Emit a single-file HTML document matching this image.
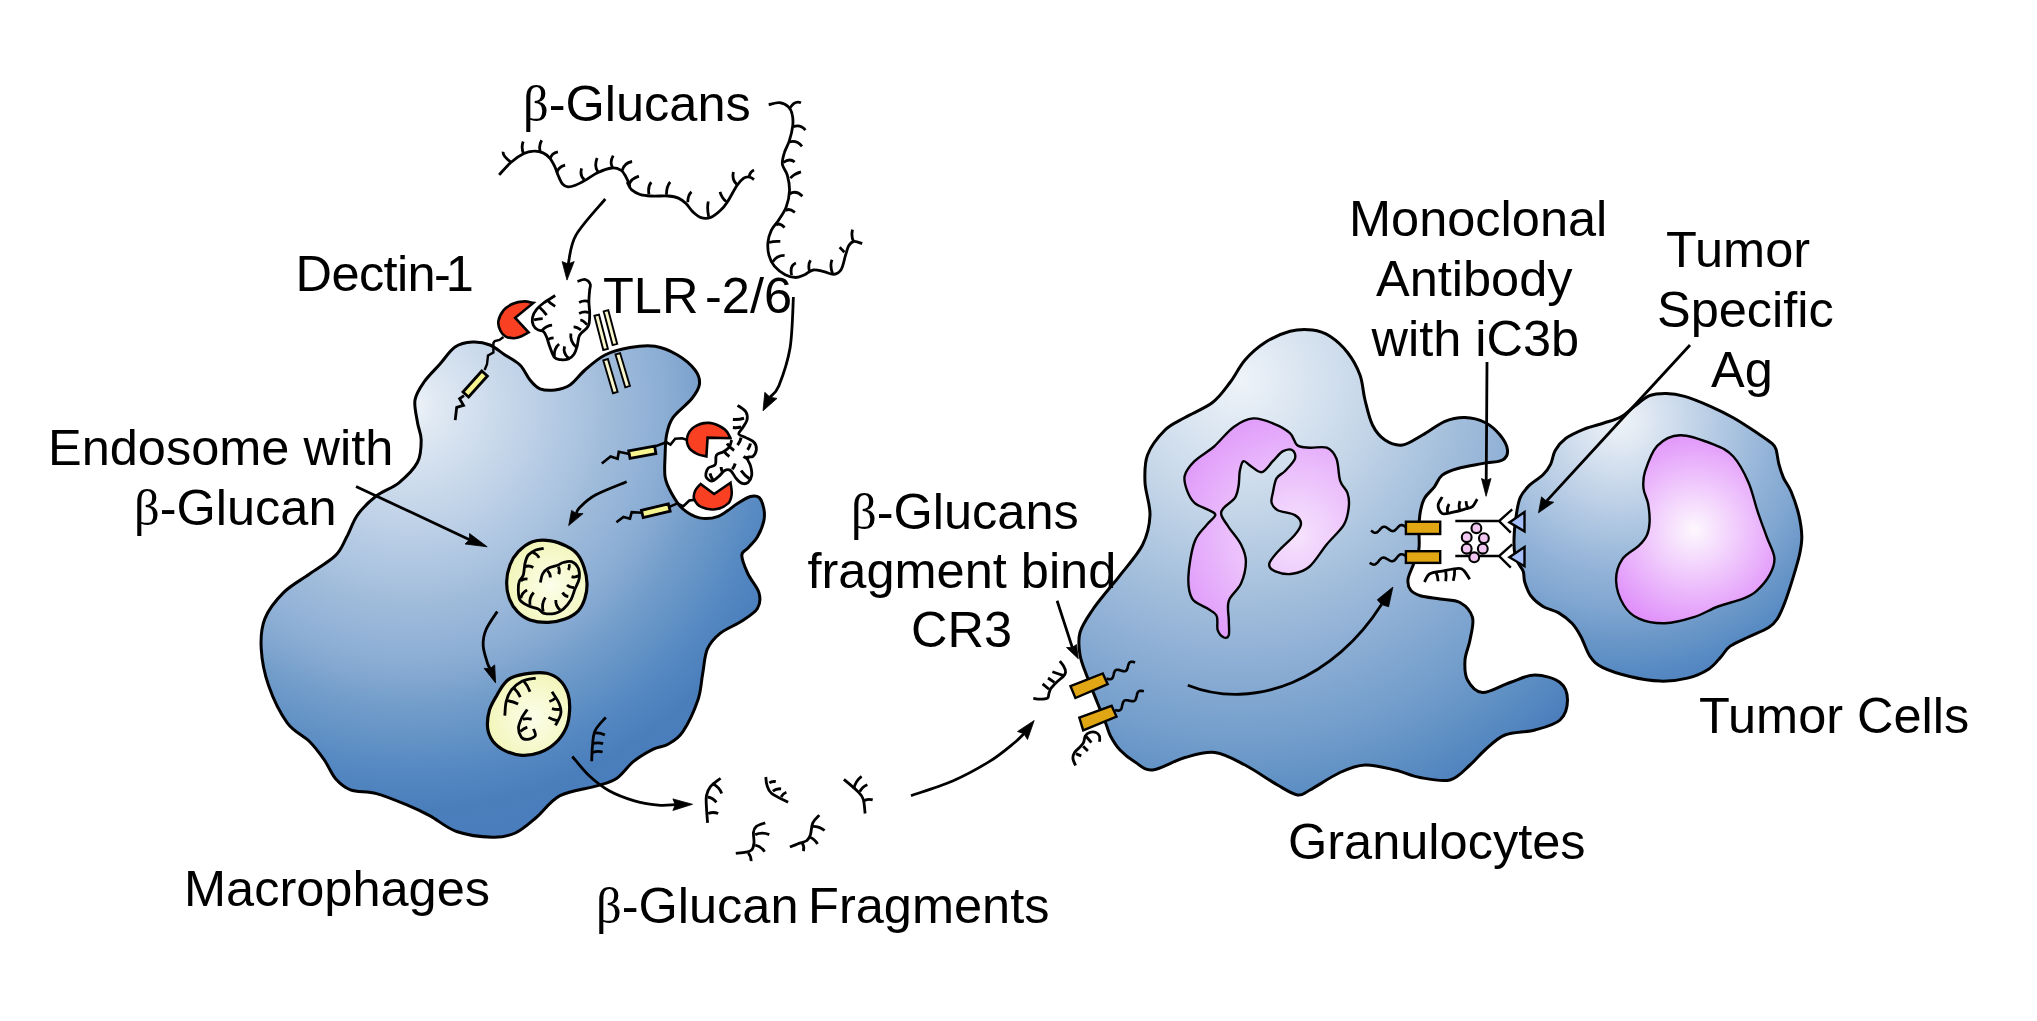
<!DOCTYPE html>
<html><head><meta charset="utf-8"><style>
html,body{margin:0;padding:0;background:#fff;width:2037px;height:1021px;overflow:hidden}
svg{display:block}
text{font-family:"Liberation Sans",sans-serif;font-size:50.5px;fill:#000}
.b{font-family:"Liberation Serif",serif}
</style></head><body>
<svg width="2037" height="1021" viewBox="0 0 2037 1021">
<defs><radialGradient id="gm" gradientUnits="userSpaceOnUse" cx="410" cy="405" r="450">
<stop offset="0" stop-color="#eef3f9"/><stop offset="0.06" stop-color="#e0e9f3"/><stop offset="0.37" stop-color="#adc5e1"/><stop offset="0.43" stop-color="#a2bddb"/><stop offset="0.565" stop-color="#8caed5"/><stop offset="0.62" stop-color="#80a5cf"/><stop offset="0.67" stop-color="#729dca"/><stop offset="0.81" stop-color="#5689c2"/><stop offset="0.9" stop-color="#4a7ebb"/><stop offset="1" stop-color="#4a7cbc"/></radialGradient>
<radialGradient id="gg" gradientUnits="userSpaceOnUse" cx="1240" cy="380" r="470">
<stop offset="0" stop-color="#eef3f9"/><stop offset="0.25" stop-color="#c9d9ea"/><stop offset="0.46" stop-color="#a4bfdc"/><stop offset="0.6" stop-color="#8eafd5"/><stop offset="0.77" stop-color="#729dcb"/><stop offset="0.9" stop-color="#5a8cc2"/><stop offset="1" stop-color="#4a7cbc"/></radialGradient>
<radialGradient id="gt" gradientUnits="userSpaceOnUse" cx="1620" cy="420" r="290">
<stop offset="0" stop-color="#eef3f9"/><stop offset="0.07" stop-color="#e4ebf4"/><stop offset="0.52" stop-color="#93b3d8"/><stop offset="0.65" stop-color="#80a6d1"/><stop offset="0.76" stop-color="#6a97c8"/><stop offset="0.87" stop-color="#578ac3"/><stop offset="1" stop-color="#4a7cbc"/></radialGradient>
<radialGradient id="gn" gradientUnits="userSpaceOnUse" cx="1295" cy="535" r="125">
<stop offset="0" stop-color="#f6e4fd"/><stop offset="1" stop-color="#e09cfa"/></radialGradient>
<radialGradient id="tn" gradientUnits="userSpaceOnUse" cx="1694" cy="530" r="100">
<stop offset="0" stop-color="#fdf8fe"/><stop offset="1" stop-color="#e092fa"/></radialGradient>

<radialGradient id="en" cx="0.55" cy="0.55" r="0.6">
<stop offset="0" stop-color="#fcfeea"/><stop offset="1" stop-color="#f1f5b6"/></radialGradient>
</defs>
<path d="M421.2,440.0 C421.2,433.4 418.5,429.2 417.5,422.5 C416.5,415.8 413.9,406.8 415.0,400.0 C416.1,393.2 419.8,388.0 424.0,382.0 C428.2,376.0 434.8,369.8 440.0,364.0 C445.2,358.2 449.6,350.7 455.0,347.0 C460.4,343.3 466.7,342.3 472.5,342.0 C478.3,341.7 484.6,342.8 490.0,345.0 C495.4,347.2 500.0,351.7 505.0,355.0 C510.0,358.3 515.8,360.8 520.0,365.0 C524.2,369.2 526.7,376.0 530.0,380.0 C533.3,384.0 535.8,387.1 540.0,388.8 C544.2,390.5 550.0,390.6 555.0,390.0 C560.0,389.4 565.0,388.3 570.0,385.0 C575.0,381.7 579.2,375.0 585.0,370.0 C590.8,365.0 597.5,358.8 605.0,355.0 C612.5,351.2 621.7,348.9 630.0,347.5 C638.3,346.1 647.1,345.1 655.0,346.3 C662.9,347.6 670.8,351.1 677.5,355.0 C684.2,358.9 691.3,365.2 695.0,370.0 C698.7,374.8 700.0,379.2 699.5,384.0 C699.0,388.8 696.1,393.2 691.7,398.8 C687.3,404.4 677.1,411.6 672.9,417.6 C668.7,423.6 667.9,428.5 666.6,434.8 C665.3,441.1 665.4,448.1 665.1,455.2 C664.9,462.2 664.1,470.8 665.1,477.1 C666.1,483.4 668.4,487.6 671.3,492.8 C674.2,498.0 677.6,504.3 682.3,508.5 C687.0,512.7 693.5,516.6 699.5,517.9 C705.5,519.2 712.0,518.6 718.3,516.3 C724.6,513.9 731.9,507.1 737.1,503.8 C742.3,500.5 746.0,497.8 749.7,496.7 C753.4,495.6 756.8,495.5 759.1,497.5 C761.5,499.5 763.0,504.6 763.8,508.5 C764.6,512.4 764.8,516.3 763.8,521.0 C762.8,525.7 760.1,532.2 757.5,536.7 C754.9,541.2 750.6,544.9 748.0,548.0 C745.4,551.1 741.8,550.9 741.8,555.2 C741.8,559.5 745.1,567.7 748.0,574.0 C750.9,580.3 757.4,587.0 759.0,592.8 C760.6,598.5 760.3,603.8 757.4,608.5 C754.5,613.2 748.1,616.8 741.8,621.0 C735.5,625.2 725.5,628.9 719.8,633.6 C714.0,638.3 710.2,642.4 707.3,649.2 C704.4,656.0 704.2,665.8 702.6,674.3 C701.0,682.8 701.2,690.4 697.9,700.0 C694.6,709.6 687.7,724.5 682.7,731.9 C677.7,739.3 672.9,741.3 668.0,744.2 C663.1,747.1 659.0,746.2 653.3,749.1 C647.6,752.0 639.7,756.5 633.6,761.4 C627.5,766.3 622.6,774.4 616.5,778.5 C610.4,782.6 606.2,783.0 596.8,785.9 C587.4,788.8 570.2,790.4 560.0,795.7 C549.8,801.1 543.2,811.8 535.7,818.0 C528.2,824.2 522.5,829.8 515.3,833.0 C508.1,836.2 502.1,837.5 492.3,837.2 C482.5,837.0 467.0,835.0 456.6,831.5 C446.2,828.0 438.5,820.4 430.1,815.9 C421.7,811.4 415.2,808.4 406.3,804.7 C397.4,801.0 385.8,796.1 376.5,793.6 C367.2,791.1 357.3,792.3 350.5,789.8 C343.7,787.3 340.0,783.7 335.6,778.7 C331.2,773.8 328.8,766.3 324.4,760.1 C320.0,753.9 315.7,747.7 309.5,741.5 C303.3,735.3 294.0,732.1 287.2,722.8 C280.4,713.5 272.9,698.0 268.6,685.6 C264.3,673.2 261.8,659.6 261.2,648.4 C260.6,637.2 261.2,627.9 264.9,618.6 C268.6,609.3 276.1,600.0 283.5,592.6 C290.9,585.2 300.8,580.2 309.5,574.0 C318.2,567.8 329.4,561.6 335.6,555.4 C341.8,549.2 343.1,543.6 346.8,536.8 C350.5,530.0 352.9,521.2 357.9,514.4 C362.8,507.6 369.7,501.1 376.5,495.8 C383.3,490.5 392.1,488.4 398.9,482.8 C405.7,477.2 413.8,469.4 417.5,462.3 C421.2,455.2 421.2,446.6 421.2,440.0Z" fill="url(#gm)" stroke="#000" stroke-width="3"/>
<path d="M1120.0,575.3 C1125.4,568.2 1137.5,555.0 1142.5,545.0 C1147.5,535.0 1149.6,525.4 1150.0,515.0 C1150.4,504.6 1145.4,492.5 1145.0,482.5 C1144.6,472.5 1144.2,463.8 1147.5,455.0 C1150.8,446.2 1158.8,436.2 1165.0,430.0 C1171.2,423.8 1177.1,422.1 1185.0,417.5 C1192.9,412.9 1205.0,408.3 1212.5,402.5 C1220.0,396.7 1224.6,389.6 1230.0,382.5 C1235.4,375.4 1239.2,366.7 1245.0,360.0 C1250.8,353.3 1257.5,347.3 1265.0,342.5 C1272.5,337.7 1282.1,333.4 1290.0,331.3 C1297.9,329.2 1305.8,329.2 1312.5,330.0 C1319.2,330.8 1324.2,332.6 1330.0,336.3 C1335.8,340.1 1342.5,346.1 1347.5,352.5 C1352.5,358.9 1357.1,367.1 1360.0,375.0 C1362.9,382.9 1362.9,391.7 1365.0,400.0 C1367.1,408.3 1369.2,418.3 1372.5,425.0 C1375.8,431.7 1380.0,436.7 1385.0,440.0 C1390.0,443.3 1396.2,445.8 1402.5,445.0 C1408.8,444.2 1415.4,438.9 1422.5,435.0 C1429.6,431.1 1437.9,424.2 1445.0,421.3 C1452.1,418.4 1458.3,417.3 1465.0,417.5 C1471.7,417.7 1479.2,419.6 1485.0,422.5 C1490.8,425.4 1496.2,430.4 1500.0,435.0 C1503.8,439.6 1507.1,445.8 1507.5,450.0 C1507.9,454.2 1506.5,457.8 1502.5,460.0 C1498.5,462.2 1490.7,462.0 1483.4,463.4 C1476.1,464.8 1465.6,466.2 1458.7,468.2 C1451.8,470.1 1446.3,471.9 1442.2,475.1 C1438.1,478.3 1437.0,483.5 1434.0,487.4 C1431.0,491.3 1426.7,494.3 1424.4,498.4 C1422.1,502.5 1421.2,507.1 1420.3,512.1 C1419.4,517.1 1419.1,522.3 1418.9,528.5 C1418.7,534.7 1419.8,543.1 1418.9,549.1 C1418.0,555.1 1415.3,559.2 1413.5,564.2 C1411.7,569.2 1408.5,575.0 1408.0,579.3 C1407.5,583.6 1408.7,587.5 1410.7,590.2 C1412.8,592.9 1415.4,594.2 1420.3,595.7 C1425.2,597.2 1433.4,597.9 1440.0,599.0 C1446.6,600.1 1454.6,599.4 1460.0,602.5 C1465.4,605.6 1470.8,611.2 1472.5,617.5 C1474.2,623.8 1471.2,632.9 1470.0,640.0 C1468.8,647.1 1465.4,653.3 1465.0,660.0 C1464.6,666.7 1464.6,674.6 1467.5,680.0 C1470.4,685.4 1475.4,692.1 1482.5,692.5 C1489.6,692.9 1501.2,685.4 1510.0,682.5 C1518.8,679.6 1526.7,675.0 1535.0,675.0 C1543.3,675.0 1554.6,678.3 1560.0,682.5 C1565.4,686.7 1567.5,693.8 1567.5,700.0 C1567.5,706.2 1565.4,715.0 1560.0,720.0 C1554.6,725.0 1544.2,727.5 1535.0,730.0 C1525.8,732.5 1513.3,731.7 1505.0,735.0 C1496.7,738.3 1490.8,745.0 1485.0,750.0 C1479.2,755.0 1475.8,760.0 1470.0,765.0 C1464.2,770.0 1458.3,777.9 1450.0,780.0 C1441.7,782.1 1429.2,779.2 1420.0,777.5 C1410.8,775.8 1404.2,772.1 1395.0,770.0 C1385.8,767.9 1374.2,764.6 1365.0,765.0 C1355.8,765.4 1349.2,768.3 1340.0,772.5 C1330.8,776.7 1317.1,786.2 1310.0,790.0 C1302.9,793.8 1302.9,795.8 1297.5,795.0 C1292.1,794.2 1286.2,790.0 1277.5,785.0 C1268.8,780.0 1255.4,770.4 1245.0,765.0 C1234.6,759.6 1225.0,753.8 1215.0,752.5 C1205.0,751.2 1195.4,754.6 1185.0,757.5 C1174.6,760.4 1160.8,769.2 1152.5,770.0 C1144.2,770.8 1140.4,765.3 1135.0,762.0 C1129.6,758.7 1124.1,754.3 1120.0,750.0 C1115.9,745.7 1112.8,740.3 1110.5,736.0 C1108.2,731.7 1108.2,729.5 1106.0,724.0 C1103.8,718.5 1100.6,710.8 1097.5,703.0 C1094.4,695.2 1090.4,685.5 1087.5,677.5 C1084.6,669.5 1081.2,662.5 1080.0,655.0 C1078.8,647.5 1077.9,640.0 1080.0,632.5 C1082.1,625.0 1087.5,617.5 1092.5,610.0 C1097.5,602.5 1105.4,593.3 1110.0,587.5 C1114.6,581.7 1114.6,582.4 1120.0,575.3Z" fill="url(#gg)" stroke="#000" stroke-width="3"/>
<path d="M1253.3,418.4 C1259.8,417.8 1266.7,420.8 1272.8,423.3 C1279.0,425.7 1285.9,429.4 1290.0,433.1 C1294.1,436.7 1294.1,442.9 1297.3,445.3 C1300.6,447.7 1304.7,447.3 1309.6,447.7 C1314.5,448.2 1322.2,445.9 1326.7,447.7 C1331.2,449.6 1334.3,453.3 1336.5,458.8 C1338.7,464.3 1338.3,475.1 1340.2,480.8 C1342.0,486.5 1346.1,488.6 1347.5,493.0 C1349.0,497.5 1349.4,502.4 1348.7,507.7 C1348.1,513.0 1347.5,518.8 1343.8,524.9 C1340.2,531.0 1332.4,537.5 1326.7,544.5 C1321.0,551.4 1315.3,561.6 1309.6,566.5 C1303.9,571.4 1298.1,573.0 1292.4,573.8 C1286.7,574.7 1279.2,573.0 1275.3,571.4 C1271.4,569.8 1268.8,567.3 1269.2,564.1 C1269.6,560.8 1273.5,556.7 1277.7,551.8 C1282.0,546.9 1291.0,539.4 1294.9,534.7 C1298.8,530.0 1301.0,526.9 1301.0,523.7 C1301.0,520.4 1298.8,517.3 1294.9,515.1 C1291.0,512.8 1281.6,512.2 1277.7,510.2 C1273.9,508.1 1272.4,505.7 1271.6,502.8 C1270.8,500.0 1272.0,497.1 1272.8,493.0 C1273.7,489.0 1274.5,482.0 1276.5,478.4 C1278.6,474.7 1282.0,474.3 1285.1,471.0 C1288.1,467.7 1293.7,462.2 1294.9,458.8 C1296.1,455.3 1294.5,451.4 1292.4,450.2 C1290.4,449.0 1285.9,449.6 1282.6,451.4 C1279.4,453.3 1276.3,457.7 1272.8,461.2 C1269.4,464.7 1265.5,471.4 1261.8,472.2 C1258.1,473.0 1253.9,467.9 1250.8,466.1 C1247.7,464.3 1245.3,460.4 1243.5,461.2 C1241.6,462.0 1240.6,466.9 1239.8,471.0 C1239.0,475.1 1239.4,481.2 1238.6,485.7 C1237.7,490.2 1237.3,494.3 1234.9,497.9 C1232.4,501.6 1226.1,504.9 1223.9,507.7 C1221.6,510.6 1220.6,511.8 1221.4,515.1 C1222.2,518.3 1225.5,522.4 1228.8,527.3 C1232.0,532.2 1238.2,538.8 1241.0,544.5 C1243.9,550.2 1245.9,555.1 1245.9,561.6 C1245.9,568.1 1243.9,577.1 1241.0,583.6 C1238.2,590.2 1230.8,594.7 1228.8,600.8 C1226.7,606.9 1228.8,614.7 1228.8,620.4 C1228.8,626.1 1229.6,632.2 1228.8,635.1 C1227.9,637.9 1225.7,638.3 1223.9,637.5 C1222.0,636.7 1219.0,633.8 1217.7,630.2 C1216.5,626.5 1218.4,619.1 1216.5,615.5 C1214.7,611.8 1210.8,611.0 1206.7,608.1 C1202.6,605.3 1195.1,603.6 1192.0,598.3 C1189.0,593.0 1188.0,585.7 1188.4,576.3 C1188.8,566.9 1191.4,550.6 1194.5,542.0 C1197.5,533.4 1203.3,529.4 1206.7,524.9 C1210.2,520.4 1214.9,517.5 1215.3,515.1 C1215.7,512.6 1212.6,512.2 1209.2,510.2 C1205.7,508.1 1198.2,506.1 1194.5,502.8 C1190.8,499.6 1188.8,495.1 1187.1,490.6 C1185.5,486.1 1183.5,480.8 1184.7,475.9 C1185.9,471.0 1189.6,466.1 1194.5,461.2 C1199.4,456.3 1207.5,452.2 1214.1,446.5 C1220.6,440.8 1227.1,431.6 1233.7,426.9 C1240.2,422.2 1246.7,419.0 1253.3,418.4Z" fill="url(#gn)" stroke="#000" stroke-width="2.4"/>
<path d="M1666.3,393.4 C1672.1,393.5 1677.2,394.2 1684.6,396.4 C1691.9,398.5 1702.3,402.8 1710.4,406.3 C1718.5,409.9 1725.7,413.4 1733.3,417.7 C1740.9,422.0 1749.8,428.0 1756.1,432.2 C1762.4,436.4 1768.0,440.0 1771.3,442.8 C1774.6,445.6 1774.6,445.3 1775.9,448.9 C1777.2,452.4 1777.6,459.3 1778.9,464.1 C1780.2,468.9 1781.5,473.2 1783.5,477.8 C1785.5,482.4 1788.6,485.4 1791.1,491.5 C1793.6,497.6 1796.9,506.8 1798.7,514.4 C1800.5,522.0 1801.7,530.3 1801.8,537.0 C1801.9,543.7 1801.0,547.8 1799.5,554.8 C1798.0,561.8 1795.0,571.2 1792.6,579.1 C1790.2,587.0 1787.5,595.4 1785.0,602.0 C1782.5,608.6 1780.2,614.4 1777.4,618.7 C1774.6,623.0 1773.1,624.8 1768.3,627.8 C1763.5,630.8 1754.8,634.0 1748.5,637.0 C1742.2,640.0 1734.8,642.8 1730.2,646.1 C1725.6,649.4 1724.6,652.9 1721.1,656.7 C1717.5,660.5 1714.5,665.3 1708.9,668.9 C1703.3,672.5 1695.7,676.1 1687.6,678.1 C1679.5,680.1 1669.8,681.4 1660.2,681.1 C1650.6,680.8 1639.4,678.8 1629.8,676.5 C1620.2,674.2 1609.0,670.7 1602.4,667.4 C1595.8,664.1 1593.8,661.8 1590.2,656.7 C1586.7,651.6 1584.1,642.6 1581.1,637.0 C1578.1,631.4 1575.8,627.4 1572.0,623.3 C1568.2,619.2 1563.1,615.4 1558.3,612.6 C1553.5,609.8 1547.6,609.3 1543.0,606.5 C1538.4,603.7 1533.9,599.9 1530.9,595.9 C1527.9,591.9 1526.1,586.3 1524.8,582.2 C1523.5,578.1 1524.3,574.5 1523.3,571.5 C1522.3,568.5 1520.1,566.7 1518.7,563.9 C1517.3,561.1 1515.7,559.3 1514.9,554.8 C1514.1,550.3 1513.8,543.7 1514.1,537.0 C1514.3,530.3 1515.4,521.0 1516.4,514.4 C1517.4,507.8 1518.1,502.4 1520.2,497.6 C1522.3,492.8 1525.5,489.2 1529.3,485.4 C1533.1,481.6 1539.4,478.4 1543.0,474.8 C1546.6,471.2 1548.7,468.2 1550.7,464.1 C1552.7,460.0 1552.7,454.7 1555.2,450.4 C1557.7,446.1 1561.1,441.9 1565.9,438.3 C1570.7,434.8 1577.8,431.7 1584.1,429.1 C1590.4,426.6 1597.8,425.0 1603.9,423.0 C1610.0,421.0 1615.6,419.8 1620.7,417.0 C1625.8,414.2 1629.6,409.9 1634.4,406.3 C1639.2,402.8 1644.3,397.9 1649.6,395.7 C1654.9,393.5 1660.5,393.3 1666.3,393.4Z" fill="url(#gt)" stroke="#000" stroke-width="3"/>
<path d="M1680.0,435.2 C1689.4,434.9 1704.6,440.8 1713.5,444.4 C1722.4,447.9 1727.5,450.2 1733.3,456.5 C1739.1,462.8 1744.5,473.3 1748.5,482.4 C1752.5,491.5 1754.5,502.2 1757.6,511.3 C1760.6,520.4 1764.0,529.2 1766.8,537.0 C1769.6,544.8 1773.9,551.5 1774.4,557.8 C1774.9,564.1 1772.8,569.0 1769.8,574.6 C1766.8,580.2 1760.7,587.2 1756.1,591.3 C1751.5,595.3 1748.7,596.4 1742.4,598.9 C1736.1,601.4 1726.2,603.5 1718.1,606.5 C1710.0,609.5 1702.6,614.4 1693.7,617.2 C1684.8,620.0 1673.9,623.0 1664.8,623.3 C1655.7,623.5 1645.8,621.8 1638.9,618.7 C1632.1,615.7 1627.5,611.3 1623.7,605.0 C1619.9,598.7 1616.3,588.3 1616.1,580.7 C1615.8,573.1 1618.4,565.1 1622.2,559.3 C1626.0,553.5 1634.8,549.8 1638.9,545.7 C1643.0,541.7 1645.2,539.0 1647.0,535.0 C1648.8,531.0 1649.4,527.2 1649.6,522.0 C1649.8,516.8 1649.1,509.3 1648.1,503.7 C1647.1,498.1 1644.0,493.8 1643.5,488.5 C1643.0,483.2 1642.7,478.8 1645.0,471.7 C1647.3,464.6 1651.4,452.0 1657.2,445.9 C1663.0,439.8 1670.6,435.4 1680.0,435.2Z" fill="url(#tn)" stroke="#000" stroke-width="2.4"/>
<path d="M499.1,174.9 C501.1,172.8 506.7,166.0 510.8,162.5 C514.9,158.9 520.1,155.4 523.9,153.6 C527.6,151.7 530.3,151.3 533.5,151.2 C536.7,151.0 540.4,151.7 543.1,152.9 C545.9,154.1 548.0,156.1 550.0,158.4 C551.9,160.7 553.4,163.8 554.8,166.6 C556.2,169.5 557.0,172.7 558.2,175.5 C559.5,178.4 560.8,181.9 562.4,183.8 C564.0,185.7 565.7,186.7 567.9,186.9 C570.0,187.1 572.5,186.3 575.4,185.2 C578.3,184.1 581.3,182.5 585.0,180.4 C588.8,178.2 593.6,174.5 598.1,172.5 C602.6,170.4 608.1,168.4 611.8,168.0 C615.6,167.6 618.5,168.7 620.8,170.1 C623.1,171.4 624.1,173.6 625.6,176.2 C627.1,178.9 629.4,184.7 629.7,185.9 C630.0,187.0 627.2,182.3 627.6,183.0 C627.9,183.7 629.5,187.9 631.7,189.9 C633.9,191.8 637.4,193.6 640.6,194.7 C643.8,195.7 646.3,195.8 650.9,196.0 C655.5,196.3 663.5,195.7 668.1,196.0 C672.7,196.4 675.4,196.8 678.4,198.1 C681.4,199.4 683.6,201.3 686.0,203.6 C688.4,205.9 690.3,209.5 692.9,211.9 C695.4,214.2 698.1,216.8 701.1,217.7 C704.1,218.6 707.5,218.6 710.7,217.4 C713.9,216.2 717.6,213.0 720.3,210.5 C723.1,208.0 724.5,206.4 727.2,202.2 C730.0,198.1 734.1,189.7 736.8,185.7 C739.6,181.7 741.6,179.7 743.7,178.2 C745.8,176.7 748.3,177.0 749.2,176.8" fill="none" stroke="#000" stroke-width="2.8"/>
<path d="M510.5,161.8Q502.4,155.8 503.2,151.8 M523.5,153.6Q520.9,147.2 523.2,141.5 M540.4,151.8Q538.3,146.0 541.7,140.2 M550.0,159.1Q551.5,153.0 557.9,151.8 M556.9,172.5Q558.2,167.1 565.1,165.2 M584.3,179.7Q579.5,175.7 581.6,168.3 M598.1,172.1Q593.8,166.8 597.1,158.0 M612.5,167.6Q609.4,162.0 613.2,155.6 M622.1,170.7Q624.0,163.0 632.1,161.5 M629.3,184.4Q630.7,178.9 638.9,176.1 M648.9,194.3Q647.7,185.9 651.3,182.3 M666.4,194.7Q666.6,185.9 670.2,182.0 M687.7,202.2Q687.9,195.0 691.5,191.9 M708.7,216.7Q706.8,207.7 708.3,201.5 M726.2,201.5Q721.7,198.1 720.0,191.9 M736.8,184.4Q731.7,179.6 733.4,172.0 M749.2,176.8Q749.6,172.0 754.0,169.9 M749.2,176.8Q752.3,178.2 754.0,179.6" fill="none" stroke="#000" stroke-width="2.8"/>
<path d="M768.7,104.7 C770.5,104.4 776.2,102.4 779.5,102.7 C782.8,103.1 786.2,104.7 788.3,106.7 C790.4,108.6 791.5,111.2 792.2,114.5 C793.0,117.8 793.2,121.8 792.7,126.2 C792.2,130.6 790.7,136.5 789.3,140.9 C787.9,145.3 785.5,148.8 784.4,152.7 C783.2,156.6 781.9,160.7 782.4,164.4 C782.9,168.2 786.1,170.8 787.3,175.2 C788.5,179.6 789.7,185.5 789.5,190.8 C789.3,196.1 788.0,202.1 786.2,206.9 C784.4,211.8 781.2,215.9 778.7,219.9 C776.2,223.8 773.0,226.9 771.2,230.6 C769.4,234.4 768.3,238.4 767.9,242.5 C767.6,246.6 767.9,251.5 769.0,255.4 C770.1,259.4 771.7,263.0 774.4,266.2 C777.1,269.4 781.6,272.9 785.2,274.8 C788.8,276.7 792.7,277.5 795.9,277.5 C799.2,277.5 801.7,276.1 804.6,274.8 C807.4,273.6 809.9,270.5 813.2,270.0 C816.4,269.4 820.5,270.9 824.0,271.6 C827.4,272.3 830.8,274.6 833.6,274.3 C836.5,273.9 839.2,272.6 841.2,269.4 C843.2,266.3 844.2,259.4 845.5,255.4 C846.8,251.5 847.3,248.1 848.7,245.7 C850.2,243.4 851.9,241.8 854.1,241.4 C856.4,241.1 860.9,243.2 862.2,243.6" fill="none" stroke="#000" stroke-width="2.8"/>
<path d="M790.3,107.6Q794.7,100.3 801.0,102.7 M793.2,126.7Q800.8,124.0 805.4,130.2 M789.3,141.9Q796.6,139.7 802.0,146.3 M783.4,162.5Q789.5,157.8 794.7,162.0 M790.3,178.1Q794.7,173.5 801.0,171.8 M789.5,194.0Q795.9,189.7 802.4,196.2 M785.7,210.7Q788.7,207.7 794.9,212.3 M776.0,225.2Q779.2,222.0 784.6,227.4 M769.0,242.5Q774.1,240.9 780.3,241.4 M772.8,261.9Q776.5,255.4 784.6,255.4 M791.6,275.3Q789.5,265.4 795.9,263.0 M809.4,271.0Q807.8,264.6 810.5,260.3 M832.6,273.7Q829.6,265.6 832.0,259.7 M844.4,252.2Q840.4,248.1 839.6,247.3 M853.6,241.4Q850.9,236.6 852.5,229.6" fill="none" stroke="#000" stroke-width="2.8"/>
<path d="M605.3,199.0 C600.4,205.0 582.2,224.2 576.0,235.1 C569.8,245.9 569.5,259.5 568.2,264.3 C566.8,269.1 568.0,263.9 568.0,263.9" fill="none" stroke="#000" stroke-width="2.8"/><polygon points="567.0,280.1 562.1,261.6 568.0,263.9 574.2,261.6" fill="#000" stroke="#000" stroke-width="0.8" stroke-linejoin="miter"/>
<path d="M793.4,297.0 C792.9,305.5 792.5,332.9 790.1,347.7 C787.6,362.5 782.1,377.7 778.8,386.0 C775.4,394.2 771.4,395.3 770.0,397.2" fill="none" stroke="#000" stroke-width="2.8"/><polygon points="763.0,410.8 764.8,392.3 770.0,397.2 777.0,398.4" fill="#000" stroke="#000" stroke-width="0.8" stroke-linejoin="miter"/>
<path d="M533.3,302.9 C531.7,302.7 527.3,301.2 523.9,301.4 C520.5,301.5 516.3,302.2 512.9,303.7 C509.5,305.2 505.9,307.4 503.5,310.4 C501.1,313.3 498.9,317.9 498.4,321.3 C497.9,324.7 499.1,328.2 500.4,330.7 C501.6,333.3 503.6,335.4 505.8,336.6 C508.1,337.8 511.1,338.2 513.7,338.2 C516.3,338.1 519.0,337.2 521.5,336.2 C524.0,335.2 527.4,332.9 528.6,332.3 L515.2,317.8Z" fill="#fa4022" stroke="#000" stroke-width="2.6" stroke-linejoin="miter"/>
<polyline points="503.5,337.0 499.5,340.0 494.8,341.0 493.4,343.0 493.4,352.5 488.0,355.5 487.0,364.3 484.6,370.0" fill="none" stroke="#000" stroke-width="2.4"/>
<polygon points="481.8,371.0 463.0,392.0 468.6,397.0 487.4,376.0" fill="#f6f48e" stroke="#000" stroke-width="2.8"/>
<polyline points="464.0,395.6 459.6,398.6 463.5,405.4 456.7,407.4 455.2,420.1" fill="none" stroke="#000" stroke-width="2.8"/>
<path d="M555.2,295.5 C553.4,296.7 547.4,300.2 544.2,302.5 C541.1,304.9 538.4,307.1 536.4,309.6 C534.4,312.1 533.0,314.8 532.5,317.4 C532.0,320.0 532.3,323.2 533.3,325.2 C534.2,327.3 536.3,328.9 538.0,329.9 C539.7,331.0 542.0,330.3 543.4,331.5 C544.9,332.7 545.5,334.5 546.6,337.0 C547.6,339.5 548.4,343.0 549.7,346.4 C551.0,349.8 552.6,355.1 554.4,357.4 C556.2,359.6 558.3,359.4 560.7,359.7 C563.0,360.0 566.3,359.8 568.5,358.9 C570.7,358.0 572.6,356.3 574.0,354.2 C575.4,352.1 576.2,349.5 577.1,346.4 C578.0,343.3 578.0,338.3 579.5,335.4 C580.9,332.6 584.2,331.0 585.7,329.2 C587.3,327.3 588.2,327.1 588.9,324.5 C589.5,321.9 589.7,317.3 589.7,313.5 C589.7,309.7 588.9,305.7 588.9,301.7 C588.9,297.8 589.4,293.0 589.7,290.0 C589.9,287.0 591.0,285.7 590.2,284.0 C589.5,282.3 587.3,280.0 585.1,279.5 C583.0,279.1 578.8,281.1 577.5,281.5" fill="#fff" stroke="#000" stroke-width="2.8"/>
<path d="M547.4,300.2Q549.7,303.3 555.2,306.4 M539.5,307.2Q543.8,311.1 546.6,315.1 M534.0,319.8Q537.6,318.8 542.7,318.6 M541.9,330.7Q546.2,325.6 552.1,325.2 M547.4,340.1Q548.9,338.2 553.6,337.8 M554.4,356.6Q553.6,348.7 559.1,344.0 M568.5,358.1Q562.6,353.1 564.6,346.4 M576.3,347.2Q569.7,341.5 570.9,333.5 M588.9,301.7Q584.4,299.8 579.1,302.5 M588.9,312.7Q584.4,310.8 579.1,313.5 M587.3,324.9Q583.0,320.2 580.3,320.2 M581.0,329.9Q576.9,326.8 573.6,326.8" fill="none" stroke="#000" stroke-width="2.8"/>
<polygon points="594.4,315.8 603.3,350.0 607.9,348.8 599.0,314.6" fill="#f8f6cc" stroke="#000" stroke-width="1.9"/>
<polygon points="603.7,311.4 612.6,345.1 617.2,343.9 608.3,310.2" fill="#f8f6cc" stroke="#000" stroke-width="1.9"/>
<polygon points="603.3,360.4 613.0,393.2 617.6,391.8 607.9,359.0" fill="#f8f6cc" stroke="#000" stroke-width="1.9"/>
<polygon points="615.5,354.5 625.3,387.3 629.9,385.9 620.1,353.1" fill="#f8f6cc" stroke="#000" stroke-width="1.9"/>
<path d="M730.5,438.2 C729.5,436.7 728.2,431.9 724.7,429.4 C721.1,426.8 714.5,423.3 709.4,422.9 C704.3,422.5 697.8,424.6 694.1,427.0 C690.4,429.5 687.8,434.1 687.1,437.6 C686.3,441.1 687.6,445.4 689.4,448.2 C691.2,450.9 694.8,452.7 697.6,454.1 C700.5,455.4 705.0,456.0 706.4,456.4 L707.6,437.6Z" fill="#fa4022" stroke="#000" stroke-width="2.6"/>
<path d="M730.5,482.8 C730.7,484.7 732.1,490.6 731.7,494.0 C731.3,497.4 730.9,500.9 728.2,503.4 C725.4,506.0 719.8,508.7 715.3,509.3 C710.7,509.9 704.7,508.7 701.2,506.9 C697.6,505.2 695.1,501.4 694.1,498.7 C693.1,496.0 694.2,492.9 695.3,490.5 C696.4,488.0 699.7,485.1 700.6,484.0 L714.1,494.0Z" fill="#fa4022" stroke="#000" stroke-width="2.6"/>
<polyline points="686.9,439.9 682.2,438.2 675.2,438.8 670.5,444.6 666.4,442.3 655.2,446.4" fill="none" stroke="#000" stroke-width="2.6"/>
<polygon points="654.6,446.2 628.7,450.9 630.0,458.3 655.9,453.6" fill="#f6f48e" stroke="#000" stroke-width="2.8"/>
<polyline points="629.4,454.0 618.8,451.7 617.6,458.7 610.6,456.4 601.8,463.4" fill="none" stroke="#000" stroke-width="2.6"/>
<polyline points="694.0,499.9 689.3,500.5 683.4,506.3 677.5,503.4 669.3,506.9" fill="none" stroke="#000" stroke-width="2.6"/>
<polygon points="668.4,503.9 641.4,510.3 643.2,517.6 670.2,511.2" fill="#f6f48e" stroke="#000" stroke-width="2.8"/>
<polyline points="642.3,512.8 631.7,512.2 630.0,518.7 623.5,516.9 616.4,522.2" fill="none" stroke="#000" stroke-width="2.6"/>
<path d="M737.6,405.3 C739.0,406.4 744.2,409.3 745.8,411.8 C747.4,414.2 747.6,417.2 747.0,420.0 C746.4,422.7 743.7,425.9 742.3,428.2 C740.9,430.6 738.2,432.5 738.8,434.1 C739.3,435.6 743.3,436.2 745.8,437.6 C748.4,439.0 752.3,440.3 754.0,442.3 C755.8,444.3 756.6,447.0 756.4,449.4 C756.2,451.7 754.4,455.0 752.9,456.4 C751.3,457.8 747.4,456.0 747.0,457.6 C746.6,459.1 749.7,462.9 750.5,465.8 C751.3,468.7 752.1,472.5 751.7,475.2 C751.3,477.9 749.7,480.9 748.2,482.3 C746.6,483.6 744.2,484.0 742.3,483.4 C740.3,482.8 738.4,480.9 736.4,478.7 C734.4,476.6 732.5,471.9 730.5,470.5 C728.6,469.1 726.6,469.5 724.7,470.5 C722.7,471.5 720.9,474.6 718.8,476.4 C716.6,478.1 713.9,481.1 711.7,481.1 C709.6,481.1 706.4,478.5 705.9,476.4 C705.3,474.2 706.6,470.1 708.2,468.2 C709.8,466.2 713.9,466.8 715.3,464.6 C716.6,462.5 715.1,457.4 716.4,455.2 C717.8,453.1 721.3,453.1 723.5,451.7 C725.6,450.3 728.0,449.0 729.4,447.0 C730.7,445.0 731.3,441.1 731.7,440.0" fill="#fff" stroke="#000" stroke-width="2.8"/>
<path d="M744.0,418.2Q738.6,419.9 732.9,419.4 M741.1,427.0Q737.1,428.1 732.9,427.6 M741.1,437.6Q740.1,441.8 737.6,445.2 M750.5,443.5Q749.7,447.0 747.6,449.9 M749.3,458.8Q746.2,458.2 743.5,456.4 M734.1,450.5Q729.8,447.7 727.0,443.5 M729.4,456.4Q725.8,454.1 723.5,450.5 M735.2,463.5Q734.3,466.7 732.3,469.3 M749.3,478.7Q744.4,475.4 741.1,470.5 M712.9,479.9Q710.8,477.0 710.0,473.4 M722.3,471.7Q721.2,469.4 721.1,467.0" fill="none" stroke="#000" stroke-width="3.0"/>
<path d="M626.7,481.8 C621.5,484.0 603.2,490.8 595.4,495.1 C587.5,499.4 582.9,504.5 579.7,507.6 C576.5,510.7 576.9,512.6 576.3,513.6" fill="none" stroke="#000" stroke-width="2.8"/><polygon points="568.7,525.6 571.6,510.4 576.3,513.6 583.1,513.6" fill="#000" stroke="#000" stroke-width="0.8" stroke-linejoin="miter"/>
<path d="M356.0,486.5 C374.9,495.4 450.7,530.8 469.6,539.7" fill="none" stroke="#000" stroke-width="2.8"/><polygon points="487.2,546.8 469.5,533.5 469.6,539.7 465.0,544.0" fill="#000" stroke="#000" stroke-width="0.8" stroke-linejoin="miter"/>
<path d="M532.5,541.7 C537.9,539.9 545.0,540.0 550.8,540.8 C556.6,541.7 563.0,544.4 567.4,546.7 C571.9,548.9 574.7,550.7 577.4,554.2 C580.2,557.6 582.5,562.6 584.1,567.5 C585.7,572.3 586.9,578.2 587.0,583.3 C587.2,588.4 586.4,593.7 584.9,598.3 C583.5,602.9 581.6,607.3 578.3,610.8 C574.9,614.2 569.9,617.2 565.0,619.1 C560.0,621.0 554.1,622.3 548.3,622.4 C542.5,622.6 535.1,621.7 530.0,619.9 C524.8,618.1 521.0,615.2 517.5,611.6 C514.0,608.0 511.0,603.3 509.2,598.3 C507.4,593.3 506.5,587.2 506.7,581.6 C506.8,576.1 508.1,570.0 510.0,565.0 C511.9,560.0 514.6,555.5 518.3,551.7 C522.1,547.8 527.1,543.5 532.5,541.7Z" fill="url(#en)" stroke="#000" stroke-width="3.2"/>
<path d="M543.7,548.3 C542.4,548.6 538.4,548.9 535.8,550.0 C533.2,551.1 530.1,552.8 528.3,555.0 C526.5,557.2 525.8,560.0 525.0,563.3 C524.2,566.6 524.3,571.9 523.3,575.0 C522.3,578.0 520.0,579.1 519.2,581.6 C518.3,584.1 518.2,586.9 518.3,590.0 C518.5,593.0 518.3,597.3 520.0,600.0 C521.7,602.6 525.3,604.3 528.3,605.8 C531.4,607.3 535.7,607.9 538.3,609.1 C540.9,610.4 541.4,612.6 544.1,613.3 C546.9,614.0 551.8,614.0 555.0,613.3 C558.2,612.6 560.6,611.3 563.3,609.1 C565.9,606.9 568.8,603.3 570.8,600.0 C572.7,596.6 573.6,592.6 574.9,589.1 C576.3,585.7 578.5,582.6 579.1,579.1 C579.7,575.7 579.5,571.2 578.3,568.3 C577.0,565.4 574.1,562.6 571.6,561.6 C569.1,560.7 565.5,561.9 563.3,562.5 C561.1,563.0 560.8,564.0 558.3,565.0 C555.8,566.0 550.9,566.8 548.3,568.3 C545.7,569.8 543.8,571.8 542.5,574.1 C541.2,576.5 540.7,581.1 540.4,582.5" fill="none" stroke="#000" stroke-width="2.8"/>
<path d="M532.5,552.5Q537.1,553.6 539.1,557.9 M525.0,566.6Q529.3,565.1 533.3,567.5 M520.8,580.8Q523.8,578.4 527.5,579.1 M520.8,598.3Q521.9,592.6 527.1,590.0 M530.0,604.9Q528.9,597.8 533.7,592.5 M543.3,611.6Q540.9,604.0 545.4,597.5 M560.0,609.9Q555.5,605.9 555.8,600.0 M568.3,596.6Q564.4,595.9 562.5,592.5 M574.1,587.5Q570.0,587.9 567.0,585.0 M578.3,575.8Q575.1,577.8 571.6,576.6 M569.1,564.1Q570.1,567.3 568.3,570.0 M558.3,566.6Q560.3,570.3 558.7,574.1 M547.5,570.8Q550.5,573.4 550.4,577.5" fill="none" stroke="#000" stroke-width="2.8"/>
<path d="M497.3,611.5 C495.4,614.5 488.2,624.2 485.9,630.0 C483.5,635.7 482.9,640.3 483.2,645.8 C483.5,651.4 486.5,659.7 487.6,663.5 C488.8,667.3 489.7,667.7 490.1,668.6" fill="none" stroke="#000" stroke-width="2.8"/><polygon points="495.6,682.9 484.1,668.4 490.1,668.6 494.7,664.9" fill="#000" stroke="#000" stroke-width="0.8" stroke-linejoin="miter"/>
<path d="M511.4,677.7 C515.7,675.8 523.2,674.0 529.1,673.3 C535.0,672.6 541.6,672.1 546.7,673.3 C551.8,674.5 556.4,677.0 559.9,680.3 C563.5,683.7 566.2,688.6 567.9,693.6 C569.5,698.6 569.9,704.6 569.6,710.3 C569.3,716.0 568.5,722.5 566.1,727.9 C563.7,733.4 559.9,738.8 555.5,742.9 C551.1,747.0 545.2,750.6 539.7,752.6 C534.1,754.7 527.8,755.6 522.0,755.3 C516.3,755.0 510.1,753.2 505.3,750.9 C500.4,748.5 495.9,745.0 492.9,741.2 C490.0,737.3 488.2,733.1 487.6,727.9 C487.1,722.8 487.8,715.9 489.4,710.3 C491.0,704.7 495.0,698.7 497.3,694.4 C499.7,690.2 501.2,687.5 503.5,684.7 C505.9,682.0 507.2,679.6 511.4,677.7Z" fill="url(#en)" stroke="#000" stroke-width="3.2"/>
<path d="M535.7,678.1 C533.4,678.7 526.1,679.2 522.0,681.2 C518.0,683.2 514.1,686.7 511.4,690.0 C508.8,693.4 507.3,697.2 506.2,701.5 C505.1,705.8 505.1,713.3 504.8,715.6" fill="none" stroke="#000" stroke-width="2.8"/>
<path d="M523.8,681.2Q527.9,685.9 530.0,691.8 M514.1,688.3Q518.1,692.1 520.3,697.1 M507.0,700.6Q512.9,701.3 518.1,704.1" fill="none" stroke="#000" stroke-width="2.8"/>
<path d="M527.3,709.4 C526.4,710.8 523.5,714.3 522.0,717.4 C520.6,720.5 518.6,724.7 518.5,727.9 C518.4,731.2 519.7,734.8 521.1,736.8 C522.6,738.7 525.0,739.6 527.3,739.4 C529.7,739.3 534.2,737.6 535.2,735.9 C536.3,734.1 533.8,730.0 533.5,728.8" fill="none" stroke="#000" stroke-width="2.8"/>
<path d="M522.9,719.1Q527.3,718.2 531.7,719.1 M520.3,731.5Q523.3,728.6 527.3,727.1" fill="none" stroke="#000" stroke-width="2.8"/>
<path d="M552.0,691.8 C553.2,693.7 557.6,699.6 559.0,703.3 C560.5,706.9 561.4,710.2 560.8,713.8 C560.2,717.5 556.4,723.4 555.5,725.3" fill="none" stroke="#000" stroke-width="2.8"/>
<path d="M555.5,698.0Q552.8,700.4 549.4,701.5 M559.9,709.4Q555.9,709.8 552.0,708.6 M558.2,720.9Q553.0,720.1 548.5,717.4" fill="none" stroke="#000" stroke-width="2.8"/>
<path d="M605.8,717.3 C604.0,719.5 597.4,725.9 595.2,730.5 C593.0,735.0 593.1,739.5 592.6,744.6 C592.0,749.7 591.8,758.6 591.7,761.3" fill="none" stroke="#000" stroke-width="2.8"/>
<path d="M593.4,733.1Q599.4,732.2 604.9,734.9 M592.6,743.7Q597.8,742.0 603.1,743.7 M592.6,752.5Q597.5,750.7 602.6,752.0" fill="none" stroke="#000" stroke-width="2.8"/>
<path d="M572.3,756.5 C575.2,759.8 583.4,770.4 589.5,776.1 C595.6,781.8 601.8,786.7 609.1,790.8 C616.5,794.9 625.4,798.2 633.6,800.6 C641.8,803.0 651.3,804.4 658.2,805.1 C665.1,805.8 672.4,804.7 675.3,804.7" fill="none" stroke="#000" stroke-width="2.8"/><polygon points="692.5,804.3 672.9,798.9 675.3,804.7 672.9,810.5" fill="#000" stroke="#000" stroke-width="0.8" stroke-linejoin="miter"/>
<path d="M720.5,778.2 C718.9,779.6 712.9,783.5 710.6,786.4 C708.2,789.4 707.1,792.5 706.4,795.8 C705.8,799.2 706.2,801.9 706.4,806.4 C706.6,810.9 707.4,820.1 707.6,822.9" fill="none" stroke="#000" stroke-width="2.8"/><path d="M712.9,784.1Q719.2,787.0 721.7,793.5 M707.6,797.0Q713.1,797.9 716.4,802.3 M708.2,813.5Q713.2,811.5 718.2,813.5" fill="none" stroke="#000" stroke-width="2.8"/>
<path d="M765.8,777.0 C766.0,778.4 766.0,782.5 767.0,785.3 C767.9,788.0 768.1,790.6 771.7,793.5 C775.2,796.3 785.4,800.8 788.1,802.3" fill="none" stroke="#000" stroke-width="2.8"/><path d="M769.3,782.9Q772.3,781.0 775.8,781.7 M772.8,791.1Q776.5,788.3 781.1,788.8 M781.1,797.0Q782.8,793.6 786.4,792.3" fill="none" stroke="#000" stroke-width="2.8"/>
<path d="M843.9,779.4 C846.4,781.5 855.4,789.0 858.6,792.3 C861.9,795.6 862.3,795.8 863.3,799.4 C864.4,802.9 864.8,811.1 865.1,813.5" fill="none" stroke="#000" stroke-width="2.8"/><path d="M853.9,788.8Q855.3,781.1 861.6,776.4 M859.8,791.7Q862.2,786.7 867.4,784.7 M864.5,800.5Q868.5,798.6 872.7,799.9" fill="none" stroke="#000" stroke-width="2.8"/>
<path d="M765.2,822.9 C763.7,823.5 758.3,824.8 756.4,826.4 C754.4,828.0 753.8,829.5 753.5,832.3 C753.1,835.0 754.3,839.9 754.0,842.8 C753.7,845.8 753.1,848.3 751.7,849.9 C750.3,851.5 748.5,851.7 745.8,852.2 C743.2,852.8 737.5,853.2 735.8,853.4" fill="none" stroke="#000" stroke-width="2.8"/><path d="M755.2,834.6Q762.3,831.8 769.3,834.6 M755.2,845.2Q761.2,846.5 764.6,851.7 M748.2,852.8Q751.3,856.4 751.1,861.1" fill="none" stroke="#000" stroke-width="2.8"/>
<path d="M819.3,815.2 C818.2,816.5 814.3,819.6 812.8,822.9 C811.3,826.1 811.4,831.7 810.5,834.6 C809.5,837.6 809.1,838.9 806.9,840.5 C804.8,842.1 800.4,842.9 797.5,844.0 C794.7,845.1 791.2,846.5 789.9,847.0" fill="none" stroke="#000" stroke-width="2.8"/><path d="M811.6,826.4Q818.9,825.9 824.6,830.5 M809.3,837.0Q814.8,838.8 817.5,844.0 M802.2,842.8Q804.5,846.7 803.4,851.1" fill="none" stroke="#000" stroke-width="2.8"/>
<path d="M911.0,795.7 C918.0,793.2 939.6,786.7 952.7,781.0 C965.8,775.3 979.4,767.7 989.6,761.4 C999.8,755.1 1008.4,747.6 1014.1,743.0 C1019.8,738.4 1022.3,735.2 1023.9,733.7" fill="none" stroke="#000" stroke-width="2.8"/><polygon points="1034.2,720.5 1017.5,731.5 1023.9,733.7 1027.5,739.5" fill="#000" stroke="#000" stroke-width="0.8" stroke-linejoin="miter"/>
<path d="M1057.1,600.8 C1059.6,608.6 1069.8,639.7 1072.3,647.5" fill="none" stroke="#000" stroke-width="2.8"/><polygon points="1078.3,658.8 1066.5,647.5 1072.3,647.5 1076.5,644.5" fill="#000" stroke="#000" stroke-width="0.8" stroke-linejoin="miter"/>
<polygon points="1070.5,686.2 1102.8,673.5 1107.7,684.2 1075.4,698" fill="#e0a614" stroke="#000" stroke-width="2.4"/>
<polygon points="1079.3,717.6 1111.6,705.8 1116.5,716.6 1083.2,730.3" fill="#e0a614" stroke="#000" stroke-width="2.4"/>
<polyline points="1106.5,678.5 1107.6,678.9 1108.7,679.1 1109.8,679.3 1110.7,679.2 1111.4,678.9 1112.1,678.4 1112.6,677.7 1113.0,676.7 1113.4,675.7 1113.7,674.5 1113.9,673.3 1114.3,672.3 1114.7,671.3 1115.2,670.6 1115.9,670.1 1116.6,669.8 1117.5,669.7 1118.6,669.9 1119.7,670.1 1120.8,670.5 1121.9,670.9 1123.0,671.1 1124.1,671.3 1125.0,671.2 1125.7,670.9 1126.4,670.4 1126.9,669.7 1127.3,668.7 1127.7,667.7 1127.9,666.5 1128.2,665.3 1128.6,664.3 1129.0,663.3 1129.5,662.6 1130.2,662.1 1130.9,661.8 1131.8,661.7 1132.9,661.9 1134.0,662.1 1135.1,662.5" fill="none" stroke="#000" stroke-width="2.6" stroke-linejoin="round"/>
<polyline points="1115.0,710.1 1116.2,710.4 1117.3,710.5 1118.4,710.6 1119.3,710.5 1120.1,710.1 1120.8,709.5 1121.3,708.7 1121.7,707.7 1122.0,706.6 1122.2,705.4 1122.5,704.2 1122.8,703.1 1123.2,702.1 1123.7,701.3 1124.3,700.7 1125.1,700.3 1126.0,700.2 1127.1,700.3 1128.3,700.4 1129.5,700.7 1130.6,701.0 1131.8,701.1 1132.9,701.2 1133.8,701.1 1134.6,700.7 1135.2,700.1 1135.7,699.3 1136.1,698.3 1136.4,697.2 1136.7,696.0 1136.9,694.8 1137.2,693.7 1137.6,692.7 1138.1,691.9 1138.8,691.3 1139.6,690.9 1140.5,690.8 1141.6,690.9 1142.7,691.0 1143.9,691.3" fill="none" stroke="#000" stroke-width="2.6" stroke-linejoin="round"/>
<path d="M1033.3,698.3 C1034.4,698.4 1037.3,699.1 1039.7,699.1 C1042.1,699.1 1046.0,699.1 1047.5,698.1 C1049.0,697.1 1048.4,694.8 1049.0,693.2 C1049.6,691.6 1049.8,690.1 1051.0,688.3 C1052.2,686.5 1054.3,684.4 1056.3,682.4 C1058.3,680.4 1061.7,678.2 1063.2,676.5 C1064.8,674.8 1065.5,673.8 1065.6,672.1 C1065.7,670.4 1064.7,668.1 1063.7,666.3 C1062.7,664.5 1060.5,662.0 1059.8,661.1" fill="none" stroke="#000" stroke-width="2.8"/>
<path d="M1049.0,689.3Q1045.8,686.6 1042.6,683.9 M1054.4,682.4Q1051.2,680.2 1048.0,678.0 M1063.7,675.6Q1058.1,673.7 1052.4,671.7" fill="none" stroke="#000" stroke-width="2.8"/>
<path d="M1099.6,741.7 C1099.6,740.8 1100.0,737.5 1099.4,736.0 C1098.8,734.5 1097.5,733.1 1095.9,732.5 C1094.3,731.9 1091.5,731.9 1089.7,732.5 C1087.9,733.1 1086.3,734.3 1085.3,736.0 C1084.3,737.7 1084.4,740.8 1083.5,742.6 C1082.6,744.4 1081.5,745.4 1080.0,747.0 C1078.5,748.6 1075.9,750.4 1074.7,752.3 C1073.5,754.2 1072.8,756.3 1072.9,758.5 C1073.1,760.7 1075.1,764.3 1075.6,765.5" fill="none" stroke="#000" stroke-width="2.8"/>
<path d="M1086.2,736.5Q1088.8,739.5 1091.4,742.6 M1083.1,746.2Q1085.5,748.6 1087.9,751.0 M1076.0,753.6Q1078.7,754.8 1081.3,755.9" fill="none" stroke="#000" stroke-width="2.8"/>
<path d="M1187.8,685.2 C1255,712 1335,678 1381.5,604.5" fill="none" stroke="#000" stroke-width="2.8"/>
<polygon points="1392.9,587.1 1377.3,599.8 1381.5,604.5 1388.6,606.8" fill="#000" stroke="#000" stroke-width="0.8"/>
<polyline points="1405.9,527.2 1404.9,526.5 1404.0,525.8 1403.1,525.4 1402.2,525.1 1401.3,525.0 1400.4,525.2 1399.6,525.7 1398.8,526.4 1398.0,527.2 1397.2,528.1 1396.4,528.9 1395.6,529.7 1394.8,530.4 1393.9,530.9 1393.1,531.1 1392.2,531.0 1391.3,530.7 1390.3,530.3 1389.4,529.6 1388.5,528.9 1387.5,528.2 1386.6,527.5 1385.6,527.1 1384.7,526.8 1383.8,526.7 1383.0,526.9 1382.1,527.4 1381.3,528.1 1380.5,528.9 1379.7,529.8 1378.9,530.6 1378.1,531.4 1377.3,532.1 1376.5,532.6 1375.6,532.8 1374.7,532.7 1373.8,532.4 1372.9,532.0 1372.0,531.3 1371.0,530.6" fill="none" stroke="#000" stroke-width="2.6" stroke-linejoin="round"/>
<polyline points="1405.9,556.0 1404.8,555.4 1403.8,554.8 1402.8,554.4 1401.8,554.2 1400.9,554.3 1400.0,554.6 1399.2,555.1 1398.4,555.9 1397.6,556.7 1396.8,557.7 1396.1,558.7 1395.3,559.5 1394.5,560.3 1393.7,560.8 1392.8,561.1 1391.8,561.2 1390.9,561.0 1389.8,560.6 1388.8,560.0 1387.8,559.4 1386.7,558.8 1385.7,558.2 1384.6,557.8 1383.7,557.6 1382.7,557.7 1381.8,558.0 1381.0,558.5 1380.2,559.3 1379.4,560.1 1378.7,561.1 1377.9,562.1 1377.1,562.9 1376.3,563.7 1375.5,564.2 1374.6,564.5 1373.7,564.6 1372.7,564.4 1371.7,564.0 1370.7,563.4 1369.6,562.8" fill="none" stroke="#000" stroke-width="2.6" stroke-linejoin="round"/>
<rect x="1405.9" y="521.7" width="34.3" height="12.3" fill="#e0a614" stroke="#000" stroke-width="2.4"/>
<rect x="1405.9" y="551.2" width="34.3" height="11.7" fill="#e0a614" stroke="#000" stroke-width="2.4"/>
<path d="M1455.3,521.0L1499.1,521.0M1512.2,509.3L1499.1,521.0L1510.8,532.7" fill="none" stroke="#000" stroke-width="2.4"/>
<polygon points="1524.5,512.1 1524.5,531.3 1509.4,522.4" fill="#a6bff8" stroke="#000" stroke-width="2.4"/>
<path d="M1455.3,556.0L1499.1,556.0M1512.2,544.3L1499.1,556.0L1510.8,567.6" fill="none" stroke="#000" stroke-width="2.4"/>
<polygon points="1524.5,547.0 1524.5,566.2 1509.4,557.3" fill="#a6bff8" stroke="#000" stroke-width="2.4"/>
<circle cx="1476.4" cy="528.2" r="4.9" fill="#f2c8f2" stroke="#000" stroke-width="2.1"/>
<circle cx="1466.7" cy="537.2" r="4.9" fill="#f2c8f2" stroke="#000" stroke-width="2.1"/>
<circle cx="1483.9" cy="538.2" r="4.9" fill="#f2c8f2" stroke="#000" stroke-width="2.1"/>
<circle cx="1466.7" cy="548.7" r="4.9" fill="#f2c8f2" stroke="#000" stroke-width="2.1"/>
<circle cx="1482.8" cy="548.7" r="4.9" fill="#f2c8f2" stroke="#000" stroke-width="2.1"/>
<circle cx="1474.2" cy="557.3" r="4.9" fill="#f2c8f2" stroke="#000" stroke-width="2.1"/>
<path d="M1442.2,497.0 C1441.6,498.4 1438.1,502.5 1438.1,505.2 C1438.1,508.0 1439.7,512.3 1442.2,513.5 C1444.8,514.6 1449.6,512.8 1453.2,512.1 C1456.9,511.4 1461.0,510.3 1464.2,509.3 C1467.4,508.4 1470.2,508.3 1472.4,506.6 C1474.6,504.9 1476.4,500.3 1477.2,499.1" fill="none" stroke="#000" stroke-width="2.8"/>
<path d="M1447.7,512.8Q1446.6,508.0 1449.1,503.9 M1460.1,510.7Q1458.1,505.9 1460.1,501.1 M1468.3,508.7Q1465.8,505.3 1466.2,501.1" fill="none" stroke="#000" stroke-width="2.8"/>
<path d="M1424.4,582.0 C1425.3,580.6 1426.9,575.6 1429.9,573.8 C1432.9,571.9 1437.5,571.9 1442.2,571.0 C1447.0,570.1 1455.0,568.3 1458.7,568.3 C1462.4,568.3 1462.4,569.2 1464.2,571.0 C1466.0,572.9 1468.8,577.9 1469.7,579.3" fill="none" stroke="#000" stroke-width="2.8"/>
<path d="M1436.1,572.4Q1438.0,576.7 1438.1,581.3 M1445.7,571.3Q1446.7,576.3 1445.7,581.3 M1454.6,569.7Q1455.0,575.4 1453.2,580.9" fill="none" stroke="#000" stroke-width="2.8"/>
<path d="M1487.0,362.0 C1486.9,381.8 1486.4,460.9 1486.2,480.6" fill="none" stroke="#000" stroke-width="2.8"/><polygon points="1486.1,496.3 1481.5,478.5 1486.2,480.6 1491.0,478.5" fill="#000" stroke="#000" stroke-width="0.8" stroke-linejoin="miter"/>
<path d="M1690.0,345.0 C1666.1,371.0 1570.4,475.1 1546.5,501.1" fill="none" stroke="#000" stroke-width="2.8"/><polygon points="1538.5,512.8 1541.5,496.9 1546.5,501.1 1553.7,502.2" fill="#000" stroke="#000" stroke-width="0.8" stroke-linejoin="miter"/>
<text x="295.6" y="291" textLength="140.1" lengthAdjust="spacing">Dectin</text>
<text x="434.1" y="291" textLength="39.8" lengthAdjust="spacing">-1</text>
<text x="523" y="120.5"><tspan class='b'>β</tspan>-Glucans</text>
<text x="603" y="312.5">TLR</text>
<text x="705" y="312.5">-2/6</text>
<text x="48" y="464.5">Endosome with</text>
<text x="134" y="525"><tspan class='b'>β</tspan>-Glucan</text>
<text x="184" y="906">Macrophages</text>
<text x="596" y="923"><tspan class='b'>β</tspan>-Glucan</text>
<text x="808.1" y="923">Fragments</text>
<text x="851" y="528.5"><tspan class='b'>β</tspan>-Glucans</text>
<text x="807.5" y="587.5">fragment bind</text>
<text x="911" y="646.5">CR3</text>
<text x="1349" y="235.5">Monoclonal</text>
<text x="1376" y="295.5">Antibody</text>
<text x="1371.5" y="355.5">with iC3b</text>
<text x="1666" y="266.5">Tumor</text>
<text x="1657" y="326.5">Specific</text>
<text x="1711" y="386.5">Ag</text>
<text x="1699" y="732.5">Tumor Cells</text>
<text x="1288" y="858.5">Granulocytes</text>
</svg></body></html>
